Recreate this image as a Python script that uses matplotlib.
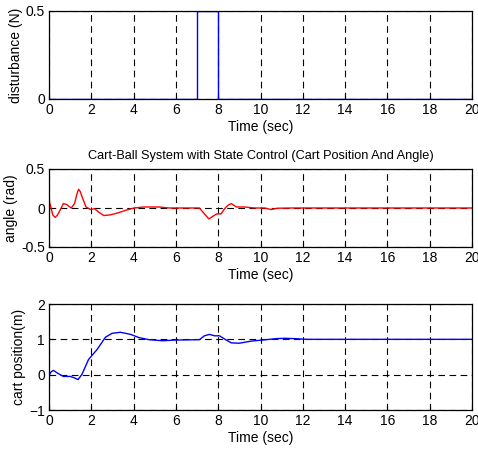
import matplotlib.pyplot as plt

plt.rcParams['font.family'] = ['Liberation Sans', 'DejaVu Sans']
plt.rcParams['font.size'] = 10

# disturbance pulse
dist_t = [0, 7, 7, 8, 8, 20]
dist_f = [0, 0, 0.5, 0.5, 0, 0]

# ball angle (rad)
ang_t = [0, 0.08, 0.18, 0.29, 0.4, 0.52, 0.68, 0.84, 1.05, 1.21, 1.32, 1.4, 1.48,
         1.56, 1.75, 1.95, 2.16, 2.35, 2.59, 2.9, 3.22, 3.62, 4.02, 4.49, 5.2, 5.68,
         7.11, 7.35, 7.56, 7.75, 7.94, 8.14, 8.3, 8.46, 8.62, 8.86, 9.25, 9.7, 10.2,
         10.5, 10.8, 11.5, 20]
ang_v = [0.10, 0.02, -0.09, -0.12, -0.09, -0.03, 0.057, 0.044, 0.0, 0.057, 0.18, 0.24,
         0.21, 0.146, 0.013, -0.018, -0.01, -0.053, -0.097, -0.088, -0.066, -0.03, 0.0,
         0.013, 0.013, 0.0, 0.0, -0.075, -0.14, -0.106, -0.075, -0.075, -0.01, 0.035,
         0.057, 0.013, 0.013, 0.0, 0.0, -0.02, -0.003, 0.0, 0.0]

# cart position (m)
pos_t = [0, 0.1, 0.21, 0.44, 0.68, 1.0, 1.2, 1.37, 1.56, 1.87, 2.27, 2.67, 2.98, 3.38,
         3.86, 4.25, 4.73, 5.37, 6.0, 7.11, 7.35, 7.59, 7.83, 8.06, 8.38, 8.62, 9.0,
         9.56, 10.1, 10.76, 11.16, 11.6, 12.2, 20]
pos_v = [-0.02, 0.08, 0.12, 0.03, -0.05, -0.05, -0.09, -0.14, 0.01, 0.43, 0.71, 1.06,
         1.17, 1.2, 1.14, 1.05, 0.99, 0.96, 0.98, 0.99, 1.1, 1.14, 1.1, 1.1, 0.98, 0.9,
         0.89, 0.95, 0.98, 1.02, 1.03, 1.02, 1.0, 1.0]

W, H = 478, 455
fig = plt.figure(figsize=(W / 100, H / 100), dpi=100)

def make_ax(top, bottom):
    ax = fig.add_axes([49 / W, 1 - bottom / H, (472 - 49) / W, (bottom - top) / H])
    ax.set_xlim(0, 20)
    ax.set_xticks(range(0, 21, 2))
    ax.grid(True, color='black', linestyle=(0, (6, 4)), linewidth=0.8)
    ax.tick_params(direction='in', length=3, width=0.8, pad=3)
    for s in ax.spines.values():
        s.set_linewidth(0.9)
    ax.set_xlabel('Time (sec)', labelpad=2)
    return ax

ax1 = make_ax(11, 99)
ax1.plot(dist_t, dist_f, color='blue', linewidth=1)
ax1.set_ylim(0, 0.5)
ax1.set_yticks([0, 0.5])
ax1.set_yticklabels(['0', '0.5'])
ax1.set_ylabel('disturbance (N)', labelpad=2)

ax2 = make_ax(169, 247)
ax2.plot(ang_t, ang_v, color='red', linewidth=1)
ax2.set_ylim(-0.5, 0.5)
ax2.set_yticks([-0.5, 0, 0.5])
ax2.set_yticklabels(['-0.5', '0', '0.5'])
ax2.set_ylabel('angle (rad)', labelpad=2)
ax2.set_title('Cart-Ball System with State Control (Cart Position And Angle)',
              fontsize=9.2, pad=7)

ax3 = make_ax(304, 410)
ax3.plot(pos_t, pos_v, color='blue', linewidth=1)
ax3.set_ylim(-1, 2)
ax3.set_yticks([-1, 0, 1, 2])
ax3.set_ylabel('cart position(m)', labelpad=2)

fig.savefig('out.png', dpi=100)
